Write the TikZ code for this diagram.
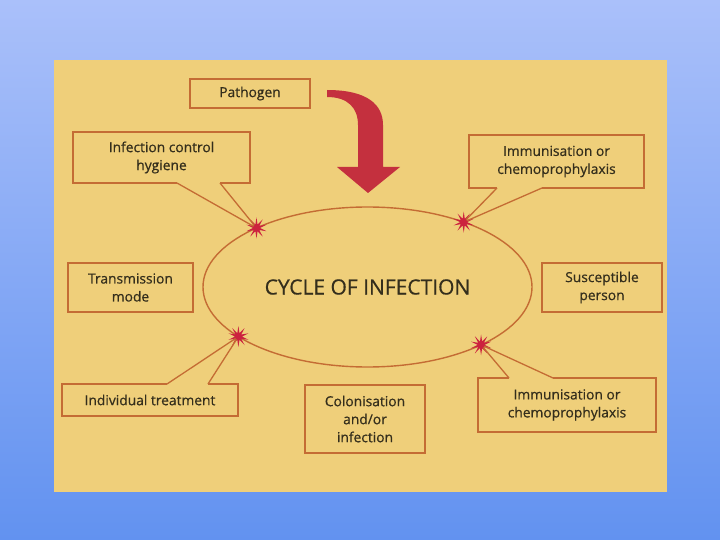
\documentclass[tikz,border=0pt]{standalone}
\usepackage{fontspec}
\setmainfont{Open Sans}[FakeBold=0.6]
\usetikzlibrary{shapes.geometric}
\definecolor{bgtop}{RGB}{170,192,250}
\definecolor{bgbot}{RGB}{98,146,240}
\definecolor{panel}{RGB}{239,207,122}
\definecolor{brd}{RGB}{196,108,52}
\definecolor{ink}{RGB}{52,46,28}
\definecolor{spk}{RGB}{204,34,62}
\definecolor{arw}{RGB}{196,48,62}

\begin{document}
\begin{tikzpicture}[x=1pt,y=-1pt,
  box/.style={draw=brd,line width=1.8pt,fill=panel,text=ink,align=center,
    font=\fontsize{13.8}{18}\selectfont,inner sep=0pt,outer sep=0pt},
  openbox/.style={box,draw=none},
  rim/.style={draw=brd,line width=1.8pt},
  edge/.style={draw=brd,line width=1.3pt},
  spark/.style={star,star points=10,star point ratio=3,fill=spk,
    minimum size=21pt,inner sep=0pt}]

  % slide background and panel
  \useasboundingbox (0,0) rectangle (720,540);
  \shade[top color=bgtop,bottom color=bgbot] (0,0) rectangle (720,540);
  \fill[panel] (54,60) rectangle (667,492);

  % the cycle
  \node[ellipse,draw=brd,line width=1.4pt,minimum width=329pt,minimum height=160pt,
    inner sep=0pt,outer sep=0pt,text=ink,font=\fontsize{21}{24}\selectfont]
    (cyc) at (367.5,287) {CYCLE OF INFECTION};

  % plain boxes
  \node[box,minimum width=120pt,minimum height=29pt] (path) at (250,93.5) {Pathogen};
  \node[box,minimum width=125pt,minimum height=49pt] (tm) at (130.5,287.5) {Transmission\\mode};
  \node[box,minimum width=120pt,minimum height=49pt] (sp) at (602,287.5) {Susceptible\\person};
  \node[box,minimum width=120pt,minimum height=68pt] (col) at (365,419) {Colonisation\\and/or\\infection};

  % boxes with a pointer
  \node[openbox,minimum width=177pt,minimum height=51pt] (ich) at (161.5,157.5) {Infection control\\hygiene};
  \node[openbox,minimum width=175pt,minimum height=53pt] (imt) at (556.5,161.5) {Immunisation or\\chemoprophylaxis};
  \node[openbox,minimum width=176pt,minimum height=32pt] (it) at (150,400) {Individual treatment};
  \node[openbox,minimum width=178pt,minimum height=54pt] (imb) at (567,405) {Immunisation or\\chemoprophylaxis};

  \coordinate (ich-a) at (177,183);  \coordinate (ich-b) at (220,183);
  \coordinate (imt-a) at (497,188);  \coordinate (imt-b) at (542,188);
  \coordinate (it-a)  at (167,384);  \coordinate (it-b)  at (208,384);
  \coordinate (imb-a) at (509,378);  \coordinate (imb-b) at (553,378);

  \draw[rim] (ich-a) -- (ich.south west) -- (ich.north west) -- (ich.north east) -- (ich.south east) -- (ich-b);
  \draw[rim] (imt-a) -- (imt.south west) -- (imt.north west) -- (imt.north east) -- (imt.south east) -- (imt-b);
  \draw[rim] (it-a) -- (it.north west) -- (it.south west) -- (it.south east) -- (it.north east) -- (it-b);
  \draw[rim] (imb-a) -- (imb.north west) -- (imb.south west) -- (imb.south east) -- (imb.north east) -- (imb-b);

  % sparks on the ellipse
  \node[spark] (s1) at (cyc.152) {};
  \node[spark] (s2) at (cyc.34.6) {};
  \node[spark] (s3) at (cyc.201) {};
  \node[spark] (s4) at (cyc.333.7) {};

  \draw[edge] (ich-a) -- (s1.center) -- (ich-b);
  \draw[edge] (imt-a) -- (s2.center) -- (imt-b);
  \draw[edge] (it-a) -- (s3.center) -- (it-b);
  \draw[edge] (imb-a) -- (s4.center) -- (imb-b);
  \foreach \s in {s1,s2,s3,s4}
    \fill[spk] (\s) circle (3.5pt);

  % bent red arrow
  \fill[arw] (327,90) .. controls (368,90) and (383,105) .. (383,125) -- (383,167)
    -- (400,167) -- (368,193) -- (337,167) -- (358,167) -- (358,125)
    .. controls (358,108) and (348,97) .. (327,97) -- cycle;
\end{tikzpicture}
\end{document}
